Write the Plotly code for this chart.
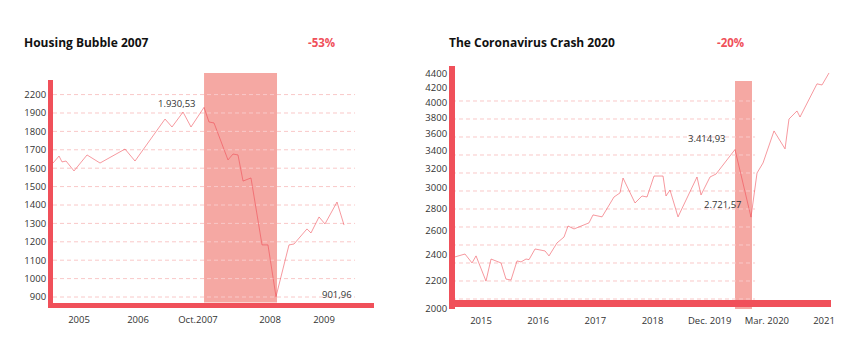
import math
import plotly.graph_objects as go

# ---------------- data ----------------
# Housing bubble (left chart); x = fractional time position, y = index value
housing_x = [2004.56, 2004.661, 2004.712, 2004.780, 2004.915, 2005.136, 2005.356, 2005.780,
             2005.949, 2006.458, 2006.576, 2006.763, 2006.898, 2007.119, 2007.203, 2007.288,
             2007.525, 2007.610, 2007.695, 2007.780, 2007.915, 2008.102, 2008.203, 2008.339,
             2008.559, 2008.644, 2008.864, 2008.932, 2009.068, 2009.169, 2009.373, 2009.492]
housing_y = [1628, 1666, 1634, 1639, 1585, 1672, 1628, 1704,
             1639, 1867, 1824, 1905, 1824, 1930.53, 1851, 1846,
             1645, 1677, 1672, 1530, 1547, 1183, 1183, 901.96,
             1183, 1188, 1270, 1248, 1335, 1297, 1416, 1291]
housing_ytick_vals = [2000, 1900, 1800, 1700, 1600, 1500, 1400, 1300, 1200, 1100, 1000, 900]
housing_ytick_text = ["2200", "1900", "1800", "1700", "1600", "1500", "1400", "1300",
                      "1200", "1100", "1000", "900"]
housing_xtick_vals = [2005.0, 2006.0, 2007.017, 2008.237, 2009.153]
housing_xtick_text = ["2005", "2006", "Oct.2007", "2008", "2009"]
housing_crash = [2007.119, 2008.356]
housing_peak = (2007.119, 1930.53, "1.930,53")
housing_low = (2008.339, 901.96, "901,96")

# Coronavirus crash (right chart)
corona_x = [2014.545, 2014.720, 2014.843, 2014.913, 2015.087, 2015.175, 2015.350, 2015.437,
            2015.525, 2015.630, 2015.700, 2015.787, 2015.840, 2015.945, 2016.120, 2016.189,
            2016.329, 2016.452, 2016.522, 2016.627, 2016.889, 2016.959, 2017.117, 2017.326,
            2017.431, 2017.484, 2017.694, 2017.816, 2017.904, 2018.026, 2018.184, 2018.236,
            2018.306, 2018.446, 2018.778, 2018.848, 2019.006, 2019.111, 2019.443, 2019.723,
            2019.828, 2019.933, 2020.125, 2020.318, 2020.387, 2020.527, 2020.580, 2020.877,
            2020.965, 2021.087]
corona_y = [2382, 2405, 2334, 2390, 2196, 2365, 2334, 2211,
            2204, 2350, 2342, 2365, 2360, 2446, 2430, 2390,
            2496, 2546, 2642, 2616, 2670, 2742, 2724, 2912,
            2952, 3103, 2854, 2922, 2912, 3124, 3124, 2922,
            2981, 2724, 3114, 2932, 3114, 3145, 3414.93, 2721.57,
            3156, 3264, 3634, 3422, 3782, 3886, 3808, 4256,
            4240, 4414]
corona_ytick_vals = [4400, 4200, 4000, 3800, 3600, 3400, 3200, 3000, 2800, 2600, 2400, 2200, 2000]
corona_xtick_vals = [2015, 2016, 2017, 2018, 2019, 2020, 2021]
corona_xtick_text = ["2015", "2016", "2017", "2018", "Dec. 2019", "Mar. 2020", "2021"]
corona_crash = [2019.443, 2019.74]
corona_peak = (2019.443, 3414.93, "3.414,93")
corona_low = (2019.723, 2721.57, "2.721,57")
grid_vals = [900, 1000, 1100, 1200, 1300, 1400, 1500, 1600, 1700, 1800, 1900, 2000]

titles = ["Housing Bubble 2007", "The Coronavirus Crash 2020"]
drops = ["-53%", "-20%"]

# ---------------- style / layout helpers ----------------
RED = "#f0505a"
LINE = "rgba(238,70,80,0.55)"
BAND = "rgba(232,62,52,0.45)"
GRID = "#f9c8c8"
TXT = "#333333"
FONT = "Open Sans"
OFF = 8                      # page body margin
W, H = 843 - 2 * OFF, 356 - 2 * OFF


def fx(p):
    return (p - OFF) / W


def fy(p):
    return 1 - (p - OFF) / H


fig = go.Figure()
fig.add_trace(go.Scatter(x=housing_x, y=housing_y, mode="lines",
                         line=dict(color=LINE, width=1), xaxis="x", yaxis="y",
                         hoverinfo="skip", showlegend=False))
fig.add_trace(go.Scatter(x=corona_x, y=corona_y, mode="lines",
                         line=dict(color=LINE, width=1), xaxis="x2", yaxis="y2",
                         hoverinfo="skip", showlegend=False))

tickfont = dict(family=FONT, size=9.5, color=TXT)

fig.update_layout(
    width=W, height=H, margin=dict(l=0, r=0, t=0, b=0, autoexpand=False),
    paper_bgcolor="white", plot_bgcolor="rgba(0,0,0,0)",
    font=dict(family=FONT, color=TXT),
    xaxis=dict(domain=[fx(53), fx(374)], range=[2004.559, 2010.0],
               tickvals=housing_xtick_vals, ticktext=housing_xtick_text,
               showgrid=False, zeroline=False, showline=True, linecolor=RED,
               linewidth=5, ticks="", tickfont=tickfont, anchor="y", ticklabelstandoff=4),
    yaxis=dict(domain=[fy(302.5), fy(80)], range=[870.1, 2079.3],
               tickvals=housing_ytick_vals, ticktext=housing_ytick_text,
               showgrid=False, zeroline=False, showline=True, linecolor=RED,
               linewidth=5, ticks="", tickfont=tickfont, anchor="x"),
    xaxis2=dict(domain=[fx(455), fx(831)], range=[2014.545, 2021.122],
                tickvals=corona_xtick_vals, ticktext=corona_xtick_text,
                showgrid=False, zeroline=False, showline=True, linecolor=RED,
                linewidth=7, ticks="", tickfont=tickfont,
                anchor="free", position=fy(303), ticklabelstandoff=6),
    yaxis2=dict(domain=[fy(309), fy(66)], type="log", range=[3.30103, 3.6550],
                tickvals=corona_ytick_vals,
                showgrid=False, zeroline=False, showline=True, linecolor=RED,
                linewidth=6, ticks="", tickfont=tickfont, anchor="x2"),
    yaxis3=dict(overlaying="y2", anchor="x2", range=[844.4, 2194.4], visible=False),
)

shapes = []
# crash bands
shapes.append(dict(type="rect", xref="x", yref="y domain", x0=housing_crash[0], x1=housing_crash[1],
                   y0=0, y1=1 + 7 / 222.5, fillcolor=BAND, line=dict(width=0), layer="below"))
shapes.append(dict(type="rect", xref="x2", yref="y2 domain", x0=corona_crash[0], x1=corona_crash[1],
                   y0=0, y1=(309 - 81) / 243, fillcolor=BAND, line=dict(width=0), layer="below"))
# dashed gridlines
for g in grid_vals:
    shapes.append(dict(type="line", xref="x domain", yref="y", x0=0, x1=0.941, y0=g, y1=g,
                       line=dict(color=GRID, width=1, dash="4px,3px"), layer="below"))
    shapes.append(dict(type="line", xref="x2 domain", yref="y3", x0=-0.008, x1=0.798, y0=g, y1=g,
                       line=dict(color=GRID, width=1, dash="4px,3px"), layer="below"))
fig.update_layout(shapes=shapes)

ann = []
tfont = dict(family=FONT, size=12, color="#111111")
dfont = dict(family=FONT, size=11.5, color=RED)
lfont = dict(family=FONT, size=9.5, color=TXT)
ann.append(dict(text="<b>" + titles[0] + "</b>", xref="paper", yref="paper", x=fx(22), y=fy(43),
                xanchor="left", yanchor="middle", showarrow=False, font=tfont))
ann.append(dict(text="<b>" + titles[1] + "</b>", xref="paper", yref="paper", x=fx(447), y=fy(43),
                xanchor="left", yanchor="middle", showarrow=False, font=tfont))
ann.append(dict(text="<b>" + drops[0] + "</b>", xref="paper", yref="paper", x=fx(321), y=fy(43),
                xanchor="center", yanchor="middle", showarrow=False, font=dfont))
ann.append(dict(text="<b>" + drops[1] + "</b>", xref="paper", yref="paper", x=fx(730), y=fy(43),
                xanchor="center", yanchor="middle", showarrow=False, font=dfont))
# value labels (log axis annotations use log10 of the value)
ann.append(dict(text=housing_peak[2], x=housing_peak[0], y=housing_peak[1], xref="x", yref="y",
                xanchor="right", yanchor="middle", xshift=-6, yshift=4, showarrow=False, font=lfont))
ann.append(dict(text=housing_low[2], x=housing_low[0], y=housing_low[1], xref="x", yref="y",
                xanchor="left", yanchor="middle", xshift=44, yshift=2, showarrow=False, font=lfont))
ann.append(dict(text=corona_peak[2], x=corona_peak[0], y=math.log10(corona_peak[1]), xref="x2", yref="y2",
                xanchor="right", yanchor="middle", xshift=-7, yshift=11, showarrow=False, font=lfont))
ann.append(dict(text=corona_low[2], x=corona_low[0], y=math.log10(corona_low[1]), xref="x2", yref="y2",
                xanchor="right", yanchor="middle", xshift=-7, yshift=13, showarrow=False, font=lfont))
fig.update_layout(annotations=ann)

fig.write_html("out.html")
